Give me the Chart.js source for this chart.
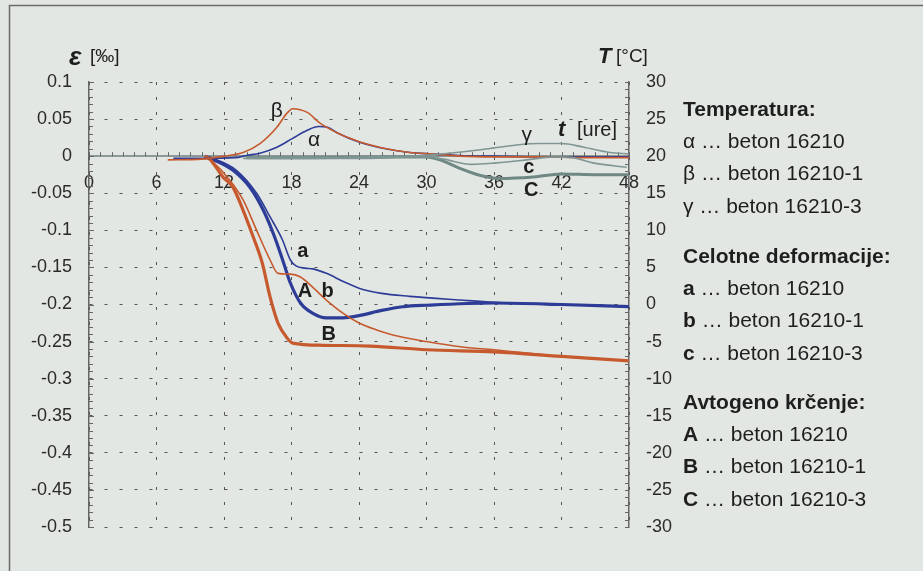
<!DOCTYPE html>
<html>
<head>
<meta charset="utf-8">
<script src="https://cdn.jsdelivr.net/npm/chart.js@4/dist/chart.umd.min.js"></script>
<style>
  html, body { margin: 0; padding: 0; background: #e3e7e3; }
  #wrap { position: relative; width: 923px; height: 571px; }
</style>
</head>
<body>
<div id="wrap"><canvas id="deformChart" width="923" height="571"></canvas></div>
<script>
// time axis [ure]
var timeMin = 0, timeMax = 48, timeStep = 6;

// Temperatura [°C] (right axis)
var alphaTime = [7.5, 10, 13, 14, 15.2, 16.7, 18.1, 19.4, 20.4, 21.2, 22, 24, 26, 28.5, 30.5, 33, 36, 40, 44, 48];
var alphaTemp = [19.7, 19.7, 19.8, 20.1, 20.4, 21.2, 22.4, 23.5, 24.0, 23.9, 23.2, 21.9, 21.1, 20.5, 20.3, 20.1, 20.0, 19.9, 19.9, 19.9];
var betaTime = [7, 10, 12, 13.7, 15.2, 16.7, 17.6, 18.1, 19.4, 20.5, 22, 23.2, 24.1, 26.1, 28.5, 30.6, 33, 36, 40, 44, 48];
var betaTemp = [19.5, 19.6, 20.0, 20.5, 21.7, 23.9, 25.8, 26.4, 25.9, 24.5, 23.2, 22.4, 21.9, 21.1, 20.5, 20.3, 20.0, 19.9, 19.9, 19.8, 19.8];
var gammaTime = [13.7, 18, 25, 29, 32, 35, 38, 40, 42, 44, 46.3, 48];
var gammaTemp = [19.7, 19.7, 19.7, 20.0, 20.4, 20.9, 21.5, 21.7, 21.7, 21.2, 20.5, 20.3];

// Celotne deformacije [‰] (left axis)
var aTime = [10.3, 11, 13.1, 14.9, 16.1, 17.2, 17.9, 18.4, 19.2, 19.9, 21.1, 22.6, 24, 26, 28.5, 33, 36, 42, 48];
var aStrain = [0, -0.003, -0.019, -0.05, -0.082, -0.113, -0.14, -0.148, -0.151, -0.152, -0.158, -0.169, -0.178, -0.185, -0.189, -0.194, -0.197, -0.2, -0.203];
var bTime = [10.3, 10.8, 12.5, 13.7, 14.9, 16.1, 16.8, 17.9, 18.8, 19.9, 21.1, 22.6, 24, 25.5, 27, 30, 33, 36, 42, 48];
var bStrain = [0, -0.005, -0.032, -0.059, -0.1, -0.14, -0.158, -0.159, -0.163, -0.177, -0.194, -0.212, -0.225, -0.234, -0.241, -0.25, -0.257, -0.261, -0.27, -0.276];
var cTime = [14, 20, 26, 30, 31.5, 34, 36.2, 38.9, 41.3, 43, 44.8, 47.8];
var cStrain = [-0.002, -0.002, -0.001, -0.001, -0.004, -0.011, -0.009, -0.005, -0.001, -0.002, -0.009, -0.015];

// Avtogeno krčenje [‰] (left axis)
var ATime = [10.3, 10.8, 12.8, 14.3, 15.5, 16.5, 17.3, 17.9, 18.8, 19.9, 21.1, 22.6, 24, 26, 27.9, 30, 36, 42, 48];
var AStrain = [0, -0.003, -0.019, -0.042, -0.073, -0.109, -0.144, -0.171, -0.198, -0.212, -0.218, -0.218, -0.215, -0.208, -0.203, -0.201, -0.198, -0.2, -0.203];
var BTime = [10.3, 10.8, 11.9, 12.8, 13.7, 14.6, 15.4, 16.1, 16.8, 17.6, 18.1, 20.8, 25, 30, 36, 42, 48];
var BStrain = [0, -0.005, -0.028, -0.042, -0.073, -0.109, -0.144, -0.19, -0.225, -0.245, -0.252, -0.255, -0.256, -0.261, -0.264, -0.27, -0.276];
var CTime = [14, 20, 26, 30, 31.2, 32.9, 34.8, 36.5, 39.5, 42, 45, 48];
var CStrain = [-0.002, -0.002, -0.001, -0.001, -0.005, -0.016, -0.026, -0.03, -0.028, -0.024, -0.025, -0.025];

var legendGroups = [
  { title: 'Temperatura:', items: [['α', 'beton 16210'], ['β', 'beton 16210-1'], ['γ', 'beton 16210-3']] },
  { title: 'Celotne deformacije:', items: [['a', 'beton 16210'], ['b', 'beton 16210-1'], ['c', 'beton 16210-3']] },
  { title: 'Avtogeno krčenje:', items: [['A', 'beton 16210'], ['B', 'beton 16210-1'], ['C', 'beton 16210-3']] }
];

var BLUE = '#2d3c97', ORANGE = '#c65a2e', GRAY = '#7f9693', GRAY_DARK = '#6f8884';
var FONT = "'Liberation Sans', Arial, sans-serif";

function toPoints(xs, ys) {
  return xs.map(function(x, i) { return { x: x, y: ys[i] }; });
}

function line(label, xs, ys, color, width, axis) {
  return {
    label: label,
    data: toPoints(xs, ys),
    borderColor: color,
    borderWidth: width,
    pointRadius: 0,
    fill: false,
    cubicInterpolationMode: 'monotone',
    yAxisID: axis
  };
}

var decorPlugin = {
  id: 'decor',
  beforeDatasetsDraw: function(chart) {
    var ctx = chart.ctx, xs = chart.scales.x, ys = chart.scales.y, yt = chart.scales.yT;
    var area = chart.chartArea;
    ctx.save();
    ctx.strokeStyle = '#666';
    ctx.lineWidth = 1;
    ctx.beginPath();
    for (var i = -50; i <= 10; i++) {
      var py = Math.round(ys.getPixelForValue(i / 100)) + 0.5;
      ctx.moveTo(area.left, py);
      ctx.lineTo(area.left + (i % 5 === 0 ? 5 : 4), py);
    }
    for (var k = -30; k <= 30; k++) {
      var pt = Math.round(yt.getPixelForValue(k)) + 0.5;
      ctx.moveTo(area.right - 4, pt);
      ctx.lineTo(area.right, pt);
    }
    var y0 = ys.getPixelForValue(0);
    for (var h = 0; h <= 48; h++) {
      var px = Math.round(xs.getPixelForValue(h)) + 0.5;
      ctx.moveTo(px, y0);
      ctx.lineTo(px, y0 - 4);
    }
    ctx.stroke();

    // frame of the figure
    ctx.strokeStyle = '#6a6a6a';
    ctx.lineWidth = 1.5;
    ctx.beginPath();
    ctx.moveTo(9.5, 571);
    ctx.lineTo(9.5, 5.5);
    ctx.lineTo(923, 5.5);
    ctx.stroke();
    ctx.restore();
  },
  afterDraw: function(chart) {
    var ctx = chart.ctx, xs = chart.scales.x, ys = chart.scales.y, yt = chart.scales.yT;
    ctx.save();
    ctx.fillStyle = '#1e1e1e';
    ctx.textBaseline = 'middle';
    ctx.textAlign = 'left';

    // axis titles
    ctx.font = 'bold italic 26px ' + FONT;
    ctx.fillText('ε', 69, 58);
    ctx.font = '19px ' + FONT;
    ctx.fillText('[‰]', 90, 57);
    ctx.font = 'bold italic 22px ' + FONT;
    ctx.fillText('T', 598, 57);
    ctx.font = '19px ' + FONT;
    ctx.fillText('[°C]', 616, 57);
    ctx.font = 'bold italic 22px ' + FONT;
    ctx.fillText('t', 558, 130);
    ctx.font = '20px ' + FONT;
    ctx.fillText('[ure]', 577, 130);

    // curve labels, placed in data coordinates
    ctx.textAlign = 'center';
    ctx.font = '21px ' + FONT;
    ctx.fillText('β', xs.getPixelForValue(16.7), yt.getPixelForValue(26.1));
    ctx.fillText('α', xs.getPixelForValue(20.0), yt.getPixelForValue(22.2));
    ctx.fillText('γ', xs.getPixelForValue(38.9), yt.getPixelForValue(22.8));
    ctx.font = 'bold 20px ' + FONT;
    ctx.fillText('c', xs.getPixelForValue(39.1), ys.getPixelForValue(-0.0148));
    ctx.fillText('C', xs.getPixelForValue(39.3), ys.getPixelForValue(-0.046));
    ctx.fillText('a', xs.getPixelForValue(19.0), ys.getPixelForValue(-0.129));
    ctx.fillText('A', xs.getPixelForValue(19.2), ys.getPixelForValue(-0.183));
    ctx.fillText('b', xs.getPixelForValue(21.2), ys.getPixelForValue(-0.183));
    ctx.fillText('B', xs.getPixelForValue(21.3), ys.getPixelForValue(-0.241));

    // legend
    ctx.textAlign = 'left';
    var lx = 683;
    var groupY = [110, 257, 403];
    legendGroups.forEach(function(g, gi) {
      ctx.font = 'bold 21px ' + FONT;
      ctx.fillText(g.title, lx, groupY[gi]);
      g.items.forEach(function(it, ii) {
        var y = groupY[gi] + 32 + ii * 32.5;
        ctx.font = (gi === 0 ? '' : 'bold ') + '21px ' + FONT;
        ctx.fillText(it[0], lx, y);
        var w = ctx.measureText(it[0]).width;
        ctx.font = '21px ' + FONT;
        ctx.fillText(' … ' + it[1], lx + w, y);
      });
    });
    ctx.restore();
  }
};

Chart.defaults.font.family = FONT;

var ctx = document.getElementById('deformChart').getContext('2d');
var chart = new Chart(ctx, {
  type: 'line',
  data: {
    datasets: [
      line('γ', gammaTime, gammaTemp, GRAY, 1.6, 'yT'),
      line('c', cTime, cStrain, GRAY, 1.6, 'y'),
      line('C', CTime, CStrain, GRAY_DARK, 3, 'y'),
      line('β', betaTime, betaTemp, ORANGE, 1.6, 'yT'),
      line('α', alphaTime, alphaTemp, BLUE, 1.6, 'yT'),
      line('b', bTime, bStrain, ORANGE, 1.6, 'y'),
      line('B', BTime, BStrain, ORANGE, 3.2, 'y'),
      line('a', aTime, aStrain, BLUE, 1.6, 'y'),
      line('A', ATime, AStrain, BLUE, 3.2, 'y')
    ]
  },
  options: {
    responsive: false,
    animation: false,
    devicePixelRatio: 1,
    layout: { padding: { left: 0, right: 242, top: 82, bottom: 44 } },
    plugins: { legend: { display: false }, tooltip: { enabled: false } },
    scales: {
      x: {
        type: 'linear',
        position: { y: 0 },
        min: timeMin,
        max: timeMax,
        ticks: { stepSize: timeStep, padding: 16, color: '#2a2a2a', font: { size: 18 }, maxRotation: 0 },
        grid: { color: '#555', lineWidth: 1, drawTicks: false },
        border: { display: true, color: '#8c9996', width: 2, dash: [3, 12] }
      },
      y: {
        position: 'left',
        min: -0.5,
        max: 0.1,
        afterFit: function(scale) { scale.width = 89; },
        ticks: {
          stepSize: 0.05, padding: 17, color: '#2a2a2a', font: { size: 18 },
          callback: function(v) { return String(parseFloat(Number(v).toFixed(2))); }
        },
        grid: { color: '#555', lineWidth: 1, drawTicks: false },
        border: { display: true, color: '#666', width: 1.5, dash: [3, 12] }
      },
      yT: {
        position: 'right',
        min: -30,
        max: 30,
        afterFit: function(scale) { scale.width = 52; },
        ticks: { stepSize: 5, padding: 17, color: '#2a2a2a', font: { size: 18 } },
        grid: { display: false, drawTicks: false },
        border: { display: true, color: '#666', width: 1.5 }
      }
    }
  },
  plugins: [decorPlugin]
});
</script>
</body>
</html>
